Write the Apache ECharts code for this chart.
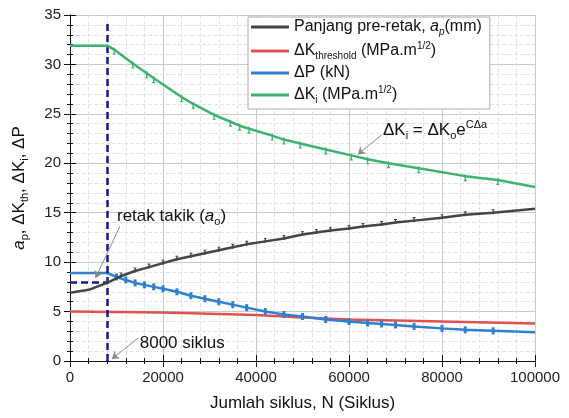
<!DOCTYPE html>
<html>
<head>
<meta charset="utf-8">
<script src="https://cdn.jsdelivr.net/npm/echarts@6/dist/echarts.min.js"></script>
<style>
  html, body { margin: 0; padding: 0; background: #fff; }
  #chart { width: 569px; height: 418px; }
</style>
</head>
<body>
<div id="chart"></div>
<script>
// data (x = cycles, y = value)
const greenX = [0, 8000, 9500, 13500, 16500, 18000, 24000, 26500, 31000, 34500, 36500, 38500, 43500, 46000, 49500, 55000, 60500, 64000, 68500, 75000, 85000, 92000, 100000];
const greenY = [31.9, 31.9, 31.5, 30.1, 29.1, 28.6, 26.7, 26.0, 24.9, 24.2, 23.8, 23.5, 22.8, 22.4, 22.0, 21.4, 20.8, 20.4, 20.0, 19.5, 18.7, 18.3, 17.6];

const grayX = [0, 4000, 8000, 11000, 14000, 17000, 20000, 23000, 26000, 29000, 32000, 35000, 38000, 42000, 46000, 50000, 53000, 56000, 60000, 63000, 67000, 70000, 74000, 80000, 85000, 91000, 100000];
const grayY = [6.9, 7.2, 7.9, 8.6, 9.1, 9.5, 9.9, 10.3, 10.6, 10.9, 11.2, 11.5, 11.8, 12.1, 12.4, 12.8, 13.0, 13.2, 13.4, 13.6, 13.8, 14.0, 14.2, 14.5, 14.8, 15.0, 15.4];

const blueX = [0, 8000, 10000, 12000, 14000, 16000, 18000, 20000, 23000, 26000, 29000, 32000, 35000, 38000, 42000, 46000, 50000, 55000, 60000, 64000, 67000, 70000, 74000, 80000, 85000, 91000, 100000];
const blueY = [8.9, 8.9, 8.5, 8.2, 7.9, 7.7, 7.5, 7.3, 7.0, 6.6, 6.3, 6.0, 5.7, 5.4, 5.0, 4.7, 4.5, 4.2, 4.0, 3.85, 3.75, 3.65, 3.5, 3.3, 3.15, 3.05, 2.9];

const redX = [0, 20000, 40000, 50000, 60000, 70000, 80000, 90000, 100000];
const redY = [5.0, 4.9, 4.65, 4.4, 4.2, 4.1, 4.0, 3.9, 3.8];

const xTicks = [0, 20000, 40000, 60000, 80000, 100000];
const yTicks = [0, 5, 10, 15, 20, 25, 30, 35];

const noticeCycles = 8000;   // dashed vertical
const notchDepth = 8.0;      // dashed horizontal

const FONT = 'Liberation Sans, Arial, sans-serif';

function pairs(xs, ys) {
  return xs.map((x, i) => [x, ys[i]]);
}

const rich = {
  i: { fontFamily: FONT, fontSize: 16, fontStyle: 'italic', color: '#111' },
  sub: { fontFamily: FONT, fontSize: 10, color: '#111', padding: [10, 0, 0, 0] },
  subi: { fontFamily: FONT, fontSize: 10, fontStyle: 'italic', color: '#111', padding: [10, 0, 0, 0] },
  sup: { fontFamily: FONT, fontSize: 10, color: '#111', padding: [0, 0, 10, 0] }
};
const bigRich = {
  t: { fontFamily: FONT, fontSize: 17, color: '#111' },
  i: { fontFamily: FONT, fontSize: 17, fontStyle: 'italic', color: '#111' },
  sub: { fontFamily: FONT, fontSize: 11, color: '#111', padding: [11, 0, 0, 0] },
  sup: { fontFamily: FONT, fontSize: 11, color: '#111', padding: [0, 0, 11, 0] }
};

const names = {
  ap: '{t|Panjang pre-retak, }{i|a}{subi|p}{t|(mm)}',
  kth: '{t|ΔK}{sub|threshold}{t| (MPa.m}{sup|1/2}{t|)}',
  dp: '{t|ΔP (kN)}',
  ki: '{t|ΔK}{sub|i}{t| (MPa.m}{sup|1/2}{t|)}'
};
const legendRich = Object.assign({ t: { fontFamily: FONT, fontSize: 16, color: '#111' } }, rich);

// small error-bar like stubs on the measured curves
const stub = 'path://M0.8,0H2.2V5H0.8Z M0,5H3V6H0Z';
const stubUp = 'path://M0,0H3V1H0Z M0.8,1H2.2V6H0.8Z';
const stubBoth = 'path://M0.8,0H2.2V6H0.8Z';

function stubSymbol(path, from) {
  return function (value) {
    return (value[0] <= from || value[0] >= 100000) ? 'none' : path;
  };
}

const chart = echarts.init(document.getElementById('chart'));

const xBase = {
  type: 'value', min: 0, max: 100000, interval: 20000,
  axisLine: { lineStyle: { color: '#111', width: 1 } },
  axisTick: { inside: true, length: 6, lineStyle: { color: '#111' } },
  minorTick: { show: true, splitNumber: 5, length: 3, lineStyle: { color: '#111' } }
};
const yBase = {
  type: 'value', min: 0, max: 35, interval: 5,
  axisLine: { show: true, lineStyle: { color: '#111', width: 1 } },
  axisTick: { show: true, inside: true, length: 6, lineStyle: { color: '#111' } },
  minorTick: { show: true, splitNumber: 5, length: 3, lineStyle: { color: '#111' } }
};

option = {
  animation: false,
  backgroundColor: '#fff',
  grid: { left: 70, right: 34, top: 15, bottom: 57 },
  legend: {
    data: ['ap', 'kth', 'dp', 'ki'],
    orient: 'vertical',
    left: 248, top: 17,
    backgroundColor: '#fff',
    borderColor: '#aaa', borderWidth: 1,
    padding: [2, 8, 4, 3],
    itemGap: 4,
    itemWidth: 38, itemHeight: 3,
    icon: 'rect',
    formatter: n => names[n],
    textStyle: { fontFamily: FONT, fontSize: 16, color: '#111', rich: legendRich }
  },
  xAxis: [
    Object.assign({}, xBase, {
      position: 'bottom',
      name: 'Jumlah siklus, N (Siklus)',
      nameLocation: 'middle', nameGap: 34,
      nameTextStyle: { fontFamily: FONT, fontSize: 17, color: '#111' },
      axisLabel: { fontFamily: FONT, fontSize: 15, color: '#222', margin: 9,
        formatter: v => xTicks.includes(v) ? String(v) : '' },
      splitLine: { show: true, lineStyle: { color: '#c9c9c9', width: 1 } },
      minorSplitLine: { show: true, lineStyle: { color: '#e3e3e3', type: 'dashed', width: 1 } }
    }),
    Object.assign({}, xBase, {
      position: 'top',
      axisLabel: { show: false },
      splitLine: { show: false }
    })
  ],
  yAxis: [
    Object.assign({}, yBase, {
      position: 'left',
      name: '{i|a}{sub|p}{t|, ΔK}{sub|th}{t|, ΔK}{sub|i}{t|, ΔP}',
      nameLocation: 'middle', nameGap: 40,
      nameTextStyle: { fontFamily: FONT, fontSize: 17, color: '#111', rich: bigRich },
      axisLabel: { fontFamily: FONT, fontSize: 15, color: '#222', margin: 9,
        formatter: v => yTicks.includes(v) ? String(v) : '' },
      splitLine: { show: true, lineStyle: { color: '#c9c9c9', width: 1 } },
      minorSplitLine: { show: true, lineStyle: { color: '#e3e3e3', type: 'dashed', width: 1 } }
    }),
    Object.assign({}, yBase, {
      position: 'right',
      axisLabel: { show: false },
      splitLine: { show: false }
    })
  ],
  series: [
    {
      name: 'kth', type: 'line', data: pairs(redX, redY),
      showSymbol: false, color: '#e0524f',
      lineStyle: { width: 2.5, color: '#e0524f' }, z: 3
    },
    {
      name: 'dp', type: 'line', data: pairs(blueX, blueY),
      showAllSymbol: true, symbol: stubSymbol(stubBoth, noticeCycles), symbolSize: [3, 7],
      color: '#2f7fd2', itemStyle: { color: '#2f7fd2', borderWidth: 0 },
      lineStyle: { width: 2.5, color: '#2f7fd2' }, z: 4
    },
    {
      name: 'ap', type: 'line', data: pairs(grayX, grayY),
      showAllSymbol: true, symbol: stubSymbol(stubUp, 4000),
      symbolSize: [3, 5], symbolOffset: [0, -1],
      color: '#444', itemStyle: { color: '#444', borderWidth: 0 },
      lineStyle: { width: 2.5, color: '#444' }, z: 5
    },
    {
      name: 'ki', type: 'line', data: pairs(greenX, greenY),
      showAllSymbol: true, symbol: stubSymbol(stub, noticeCycles), symbolSize: [3, 7], symbolOffset: [0, 1.5],
      color: '#3cb371', itemStyle: { color: '#3cb371', borderWidth: 0 },
      lineStyle: { width: 2.5, color: '#3cb371' }, z: 6
    },
    {
      // annotations
      name: 'anno', type: 'line', data: [], z: 7,
      markLine: {
        silent: true, animation: false,
        label: { show: false },
        data: [
          [ { coord: [noticeCycles, 0], symbol: 'none', lineStyle: { color: '#16169c', width: 2.5, type: [7, 4] } },
            { coord: [noticeCycles, 34.3], symbol: 'none' } ],
          [ { coord: [0, notchDepth], symbol: 'none', lineStyle: { color: '#16169c', width: 2.5, type: [7, 4] } },
            { coord: [noticeCycles, notchDepth], symbol: 'none' } ],
          [ { coord: [67100, 22.9], symbol: 'none', lineStyle: { color: '#8a8a8a', width: 1, type: 'solid' } },
            { coord: [61900, 20.9], symbol: 'arrow', symbolSize: 7 } ],
          [ { coord: [10700, 13.6], symbol: 'none', lineStyle: { color: '#8a8a8a', width: 1, type: 'solid' } },
            { coord: [5500, 8.4], symbol: 'arrow', symbolSize: 7 } ],
          [ { coord: [14600, 2.3], symbol: 'none', lineStyle: { color: '#8a8a8a', width: 1, type: 'solid' } },
            { coord: [9000, 0.2], symbol: 'arrow', symbolSize: 7 } ]
        ]
      },
      markPoint: {
        silent: true, animation: false,
        symbolSize: 0,
        label: { show: true, position: 'right', distance: 0, rich: bigRich },
        data: [
          { coord: [67300, 23.3], label: { formatter: '{t|ΔK}{sub|i}{t| = ΔK}{sub|o}{t|e}{sup|CΔa}' } },
          { coord: [10100, 14.6], label: { formatter: '{t|retak takik (}{i|a}{sub|o}{t|)}' } },
          { coord: [15000, 1.8], label: { formatter: '{t|8000 siklus}' } }
        ]
      }
    }
  ]
};

chart.setOption(option);
</script>
</body>
</html>
